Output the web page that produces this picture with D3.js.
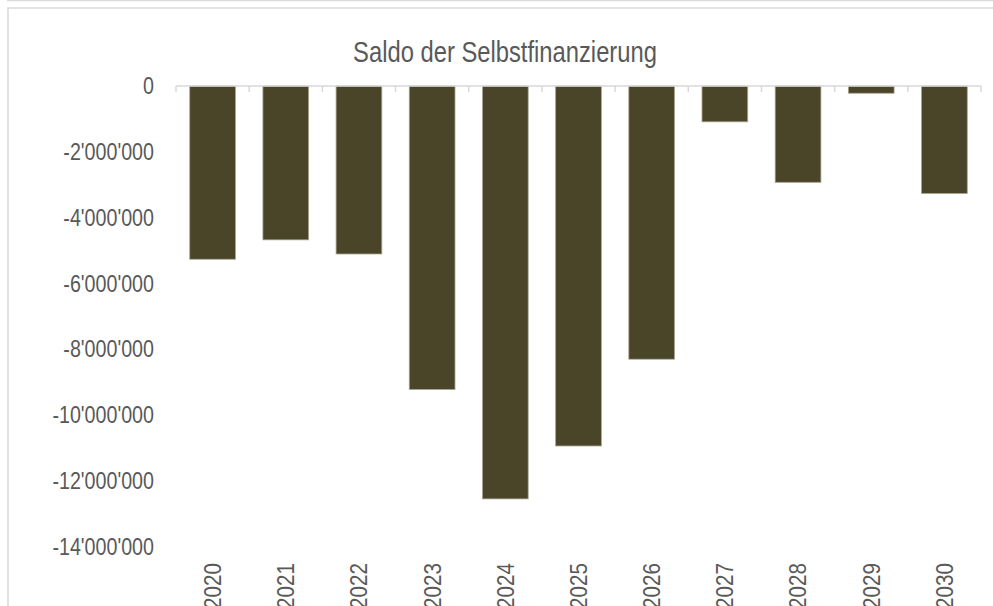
<!DOCTYPE html>
<meta charset="utf-8">
<style>
body { margin: 0; background: #fff; }
.ytick text, .xlab text { font-family: "Liberation Sans", Arial, sans-serif; font-size: 24px; fill: #595959; }
.title text { font-family: "Liberation Sans", Arial, sans-serif; font-size: 29px; fill: #595959; }
</style>
<body>
<script src="https://cdn.jsdelivr.net/npm/d3@7"></script>
<script>
var years = ["2020","2021","2022","2023","2024","2025","2026","2027","2028","2029","2030"];
var saldo = [-5270000,-4680000,-5110000,-9230000,-12560000,-10950000,-8310000,-1090000,-2930000,-220000,-3270000];
var yTicks = [0,-2000000,-4000000,-6000000,-8000000,-10000000,-12000000,-14000000];

var W = 993, H = 606;
var narrow = 0.82; // labels in the reference use a condensed face
var svg = d3.select("body").append("svg")
  .attr("width", W).attr("height", H);

// chart frame
svg.append("line").attr("x1", 7).attr("x2", W).attr("y1", 0.5).attr("y2", 0.5)
  .attr("stroke", "#d9d9d9").attr("stroke-width", 1.5);
svg.append("rect").attr("x", 8).attr("y", 8).attr("width", W).attr("height", H)
  .attr("fill", "none").attr("stroke", "#d9d9d9").attr("stroke-width", 1.5);

svg.append("g").attr("class", "title")
  .attr("transform", "translate(505,62) scale(" + narrow + ",1)")
  .append("text").attr("text-anchor", "middle")
  .text("Saldo der Selbstfinanzierung");

var x = d3.scaleBand().domain(years).range([176, 981]).paddingInner(0.375).paddingOuter(0.1875);
var xOuter = d3.scaleBand().domain(years).range([176, 981]);
var y = d3.scaleLinear().domain([0, -14000000]).range([86, 546.25]);

var fmt = function(v) { return d3.format(",")(v).replace(/,/g, "'").replace("−", "-"); };

// y labels
svg.selectAll(".ytick").data(yTicks).enter().append("g")
  .attr("class", "ytick")
  .attr("transform", function(d) { return "translate(154," + y(d) + ") scale(" + narrow + ",1)"; })
  .append("text")
  .attr("dy", "0.35em").attr("text-anchor", "end")
  .text(fmt);

// bars
svg.selectAll(".bar").data(saldo).enter().append("rect")
  .attr("class", "bar")
  .attr("x", function(d, i) { return x(years[i]); })
  .attr("width", x.bandwidth())
  .attr("y", y(0))
  .attr("height", function(d) { return y(d) - y(0); })
  .attr("fill", "#4a4529")
  .attr("stroke", "#a8a592").attr("stroke-width", 0.8);

// zero axis with ticks
svg.append("line").attr("x1", 176).attr("x2", 981).attr("y1", 86).attr("y2", 86)
  .attr("stroke", "#d9d9d9").attr("stroke-width", 1.5);
var bounds = years.map(function(d) { return xOuter(d); }).concat([981]);
svg.selectAll(".xt").data(bounds).enter().append("line")
  .attr("x1", function(d) { return d; }).attr("x2", function(d) { return d; })
  .attr("y1", 86).attr("y2", 92)
  .attr("stroke", "#d9d9d9").attr("stroke-width", 1.5);

// x labels
svg.selectAll(".xlab").data(years).enter().append("g")
  .attr("class", "xlab")
  .attr("transform", function(d) { return "translate(" + (xOuter(d) + xOuter.bandwidth() / 2) + ",563) rotate(-90) scale(0.86,1)"; })
  .append("text")
  .attr("dy", "0.35em").attr("text-anchor", "end")
  .text(function(d) { return d; });
</script>
</body>
